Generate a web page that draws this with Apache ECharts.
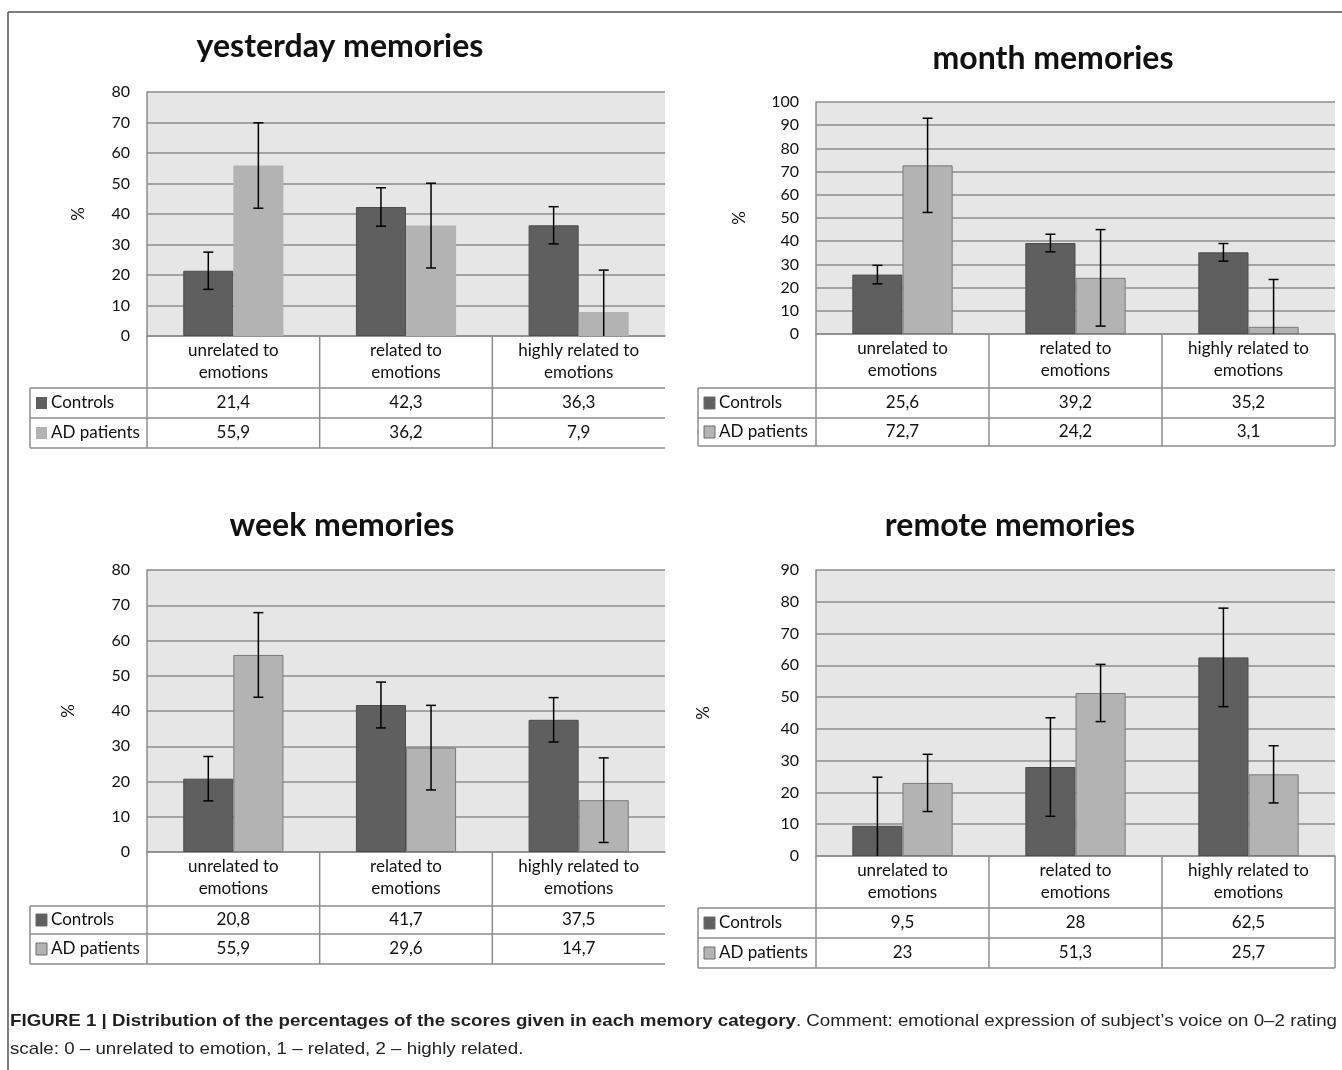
<!DOCTYPE html>
<html>
<head>
<meta charset="utf-8">
<script src="https://cdn.jsdelivr.net/npm/echarts@6/dist/echarts.min.js"></script>
<style>
  html, body { margin: 0; padding: 0; background: #fff; }
  #chart { width: 1342px; height: 1070px; }
</style>
</head>
<body>
<div id="chart"></div>
<script>
// data
const categories = ["unrelated to\nemotions", "related to\nemotions", "highly related to\nemotions"]
const groupNames = ["Controls", "AD patients"]
const panelTitles = ["yesterday memories", "month memories", "week memories", "remote memories"]
const yMax = [80, 100, 80, 90]

const yesterdayControls = [21.4, 42.3, 36.3]
const yesterdayPatients = [55.9, 36.2, 7.9]
const yesterdayControlsErr = [6.1, 6.3, 6.1]
const yesterdayPatientsErr = [14.0, 13.9, 13.7]

const monthControls = [25.6, 39.2, 35.2]
const monthPatients = [72.7, 24.2, 3.1]
const monthControlsErr = [4.0, 3.8, 3.8]
const monthPatientsErr = [20.3, 20.8, 20.4]

const weekControls = [20.8, 41.7, 37.5]
const weekPatients = [55.9, 29.6, 14.7]
const weekControlsErr = [6.3, 6.5, 6.3]
const weekPatientsErr = [12.0, 12.0, 12.0]

const remoteControls = [9.5, 28, 62.5]
const remotePatients = [23, 51.3, 25.7]
const remoteControlsErr = [15.3, 15.5, 15.5]
const remotePatientsErr = [9.0, 9.0, 9.0]

const controls = [yesterdayControls, monthControls, weekControls, remoteControls]
const patients = [yesterdayPatients, monthPatients, weekPatients, remotePatients]
const controlsErr = [yesterdayControlsErr, monthControlsErr, weekControlsErr, remoteControlsErr]
const patientsErr = [yesterdayPatientsErr, monthPatientsErr, weekPatientsErr, remotePatientsErr]

const captionBold = "FIGURE 1 | Distribution of the percentages of the scores given in each memory category"
const captionRest = ". Comment: emotional expression of subject\u2019s voice on 0\u20132 rating"
const captionLine2 = "scale: 0 \u2013 unrelated to emotion, 1 \u2013 related, 2 \u2013 highly related."

// layout of the four panels (pixels)
const layout = [
  { left: 147, top: 92, width: 518, height: 244, rows: [388, 418, 448], legendLeft: 30, titleX: 340, titleY: 47, nameGap: 60, closed: false, border: false },
  { left: 816, top: 102, width: 519, height: 232, rows: [388, 418, 446], legendLeft: 698, titleX: 1053, titleY: 59, nameGap: 68, closed: true, border: true },
  { left: 147, top: 570, width: 518, height: 282, rows: [906, 934, 964], legendLeft: 30, titleX: 342, titleY: 526, nameGap: 70, closed: false, border: true },
  { left: 816, top: 570, width: 519, height: 286, rows: [908, 938, 968], legendLeft: 698, titleX: 1010, titleY: 526, nameGap: 104, closed: true, border: true }
]

const FONT = "Lato"
const CAPTION_FONT = "Liberation Sans"
const DARK = "#5f5f5f"
const LIGHT = "#b3b3b3"
const LINE = "#8c8c8c"
const BAR_FRAC = 0.29

function fmt(v) {
  return String(v).replace(".", ",")
}

function errorBars(sign) {
  return function (params, api) {
    const x = api.value(0)
    const v = api.value(1)
    const e = api.value(2)
    const band = api.size([1, 0])[0]
    const off = sign * band * BAR_FRAC / 2
    const top = api.coord([x, v + e])
    const bot = api.coord([x, v - e])
    const cx = top[0] + off
    const style = { stroke: "#000", lineWidth: 1.5 }
    return {
      type: "group",
      children: [
        { type: "line", shape: { x1: cx, y1: top[1], x2: cx, y2: bot[1] }, style },
        { type: "line", shape: { x1: cx - 5, y1: top[1], x2: cx + 5, y2: top[1] }, style },
        { type: "line", shape: { x1: cx - 5, y1: bot[1], x2: cx + 5, y2: bot[1] }, style }
      ]
    }
  }
}

const grid = []
const xAxis = []
const yAxis = []
const series = []
const graphic = []

layout.forEach((p, i) => {
  grid.push({
    left: p.left, top: p.top, width: p.width, height: p.height,
    show: true, backgroundColor: "#e6e6e6", borderWidth: 0
  })
  xAxis.push({
    type: "category", gridIndex: i, data: categories,
    axisLine: { lineStyle: { color: LINE, width: 1.5 } },
    axisTick: { show: false },
    axisLabel: { fontFamily: FONT, fontSize: 17, color: "#111", lineHeight: 22, margin: 4, interval: 0 }
  })
  yAxis.push({
    type: "value", gridIndex: i, min: 0, max: yMax[i], interval: 10,
    name: "%", nameLocation: "middle", nameGap: p.nameGap, nameRotate: 90,
    nameTextStyle: { fontFamily: FONT, fontSize: 17, color: "#111" },
    axisLine: { show: true, lineStyle: { color: LINE, width: 1.5 } },
    axisTick: { show: false },
    axisLabel: { fontFamily: FONT, fontSize: 16, color: "#111", margin: 17 },
    splitLine: { lineStyle: { color: LINE, width: 1.5 } }
  })
  series.push({
    type: "bar", name: groupNames[0], xAxisIndex: i, yAxisIndex: i,
    data: controls[i], barWidth: (BAR_FRAC * 100) + "%", barGap: "0%",
    itemStyle: { color: DARK, borderColor: "#4d4d4d", borderWidth: 1 },
    silent: true
  })
  series.push({
    type: "bar", name: groupNames[1], xAxisIndex: i, yAxisIndex: i,
    data: patients[i], barWidth: (BAR_FRAC * 100) + "%", barGap: "0%",
    itemStyle: { color: LIGHT, borderColor: p.border ? "#7a7a7a" : LIGHT, borderWidth: p.border ? 1 : 0 },
    silent: true
  })
  series.push({
    type: "custom", xAxisIndex: i, yAxisIndex: i, clip: true, silent: true, z: 5,
    renderItem: errorBars(-1),
    data: controls[i].map((v, k) => [k, v, controlsErr[i][k]])
  })
  series.push({
    type: "custom", xAxisIndex: i, yAxisIndex: i, clip: true, silent: true, z: 5,
    renderItem: errorBars(1),
    data: patients[i].map((v, k) => [k, v, patientsErr[i][k]])
  })

  // panel title
  graphic.push({
    type: "text", x: p.titleX, y: p.titleY,
    style: { text: panelTitles[i], fontFamily: FONT, fontWeight: "bold", fontSize: 32, fill: "#111", align: "center", verticalAlign: "middle" }
  })

  // data table below the plot
  const bottom = p.top + p.height
  const right = p.left + p.width
  const lineStyle = { stroke: LINE, lineWidth: 1.5 }
  for (let c = 0; c <= categories.length; c++) {
    if (c === categories.length && !p.closed) continue
    const x = p.left + p.width * c / categories.length
    graphic.push({ type: "line", shape: { x1: x, y1: bottom, x2: x, y2: p.rows[2] }, style: lineStyle })
  }
  graphic.push({ type: "line", shape: { x1: p.legendLeft, y1: p.rows[0], x2: p.legendLeft, y2: p.rows[2] }, style: lineStyle })
  p.rows.forEach(y => {
    graphic.push({ type: "line", shape: { x1: p.legendLeft, y1: y, x2: right, y2: y }, style: lineStyle })
  })
  const rowValues = [controls[i], patients[i]]
  const rowColors = [DARK, LIGHT]
  rowValues.forEach((vals, r) => {
    const cy = (p.rows[r] + p.rows[r + 1]) / 2
    graphic.push({
      type: "rect", shape: { x: p.legendLeft + 6, y: cy - 6, width: 11, height: 12 },
      style: { fill: rowColors[r], stroke: p.border ? "#6a6a6a" : null, lineWidth: 1 }
    })
    graphic.push({
      type: "text", x: p.legendLeft + 21, y: cy,
      style: { text: groupNames[r], fontFamily: FONT, fontSize: 17, fill: "#111", align: "left", verticalAlign: "middle" }
    })
    vals.forEach((v, k) => {
      graphic.push({
        type: "text", x: p.left + p.width * (k + 0.5) / categories.length, y: cy,
        style: { text: fmt(v), fontFamily: FONT, fontSize: 17, fill: "#111", align: "center", verticalAlign: "middle" }
      })
    })
  })
})

// caption is set in a condensed face; squeeze a regular face to the same line length
const measure = document.createElement("canvas").getContext("2d")
measure.font = "bold 17px '" + CAPTION_FONT + "'"
let captionWidth = measure.measureText(captionBold).width
measure.font = "17px '" + CAPTION_FONT + "'"
captionWidth += measure.measureText(captionRest).width
const squeeze = 1327 / captionWidth

graphic.push({ type: "line", shape: { x1: 8, y1: 12, x2: 1342, y2: 12 }, style: { stroke: "#555", lineWidth: 1.5 } })
graphic.push({ type: "line", shape: { x1: 8, y1: 12, x2: 8, y2: 1070 }, style: { stroke: "#555", lineWidth: 1.5 } })
graphic.push({
  type: "text", x: 10, y: 1021, scaleX: squeeze,
  style: {
    text: "{b|" + captionBold + "}{n|" + captionRest + "}",
    verticalAlign: "middle",
    rich: {
      b: { fontFamily: CAPTION_FONT, fontWeight: "bold", fontSize: 17, fill: "#231f20" },
      n: { fontFamily: CAPTION_FONT, fontSize: 17, fill: "#231f20" }
    }
  }
})
graphic.push({
  type: "text", x: 10, y: 1049, scaleX: squeeze,
  style: { text: captionLine2, fontFamily: CAPTION_FONT, fontSize: 17, fill: "#231f20", verticalAlign: "middle" }
})

const chartInstance = echarts.init(document.getElementById("chart"))
chartInstance.setOption({
  animation: false,
  backgroundColor: "#fff",
  grid,
  xAxis,
  yAxis,
  series,
  graphic
})
</script>
</body>
</html>
